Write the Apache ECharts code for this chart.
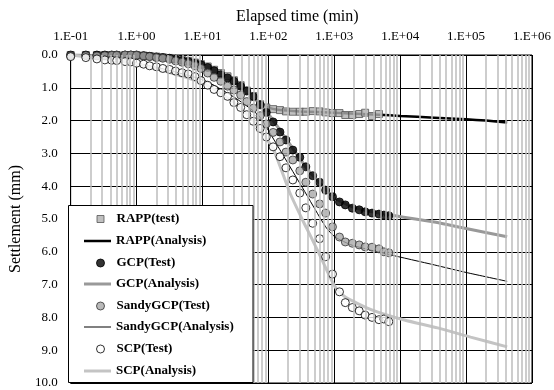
<!DOCTYPE html>
<html><head><meta charset="utf-8">
<script src="https://cdn.jsdelivr.net/npm/echarts@6/dist/echarts.min.js"></script>
<style>html,body{margin:0;padding:0;background:#fff}#c{width:554px;height:390px}</style>
</head><body><div id="c"></div>
<script>
// Test readings (min)
var testTimes = [0.1,0.17,0.25,0.33,0.42,0.5,0.67,0.82,1.0,1.28,1.58,2.0,2.5,3.16,3.9,4.9,6.1,7.7,9.5,12,15,19,24,30,38,47,59,75,93,118,150,185,235,300,370,470,600,740,940,1200,1470,1880,2390,2940,3740,4760,5660,6730];
var rappTest = [0,0,0,0,0,0,0,0,0.01,0.02,0.03,0.05,0.07,0.09,0.12,0.15,0.18,0.23,0.28,0.35,0.45,0.55,0.65,0.77,0.92,1.08,1.25,1.5,1.6,1.65,1.68,1.72,1.73,1.73,1.73,1.71,1.72,1.75,1.77,1.77,1.83,1.83,1.8,1.76,1.86,1.8];
var gcpTest = [0,0,0,0,0,0,0,0,0,0.02,0.04,0.06,0.08,0.1,0.13,0.17,0.2,0.25,0.3,0.38,0.48,0.6,0.7,0.8,0.95,1.1,1.27,1.52,1.75,2.04,2.35,2.59,2.9,3.12,3.41,3.68,3.88,4.12,4.32,4.48,4.57,4.67,4.72,4.78,4.82,4.85,4.88,4.9];
var sandyTest = [0.02,0.02,0.03,0.02,0.01,0.01,0,0,0.01,0.03,0.05,0.08,0.1,0.13,0.18,0.22,0.27,0.33,0.41,0.55,0.68,0.8,0.95,1.07,1.22,1.42,1.62,1.85,2.1,2.36,2.65,2.96,3.2,3.53,3.88,4.24,4.54,4.82,5.24,5.55,5.7,5.74,5.79,5.85,5.86,5.91,6.0,6.03];
var scpTest = [0.05,0.08,0.12,0.15,0.16,0.17,0.2,0.21,0.25,0.28,0.33,0.36,0.41,0.44,0.49,0.54,0.58,0.66,0.78,0.92,1.05,1.15,1.26,1.45,1.6,1.82,2.02,2.24,2.5,2.8,3.1,3.44,3.81,4.21,4.66,5.13,5.6,6.15,6.68,7.22,7.55,7.7,7.8,7.93,8.0,8.07,8.05,8.13];

// Analysis curves
var rappAnaTimes = [0.1,0.3,1,3,10,30,60,100,150,300,1000,4760,10000,33000,100000,200000,420000];
var rappAna = [0,0.01,0.03,0.12,0.3,0.8,1.3,1.6,1.68,1.72,1.76,1.82,1.86,1.91,1.96,2.0,2.06];
var gcpAnaTimes = [0.1,1,3,10,30,60,100,200,400,700,1000,2000,6700,33000,100000,420000];
var gcpAna = [0,0.03,0.1,0.3,0.8,1.3,1.8,2.65,3.5,4.05,4.35,4.65,4.87,5.09,5.29,5.54];
var sandyAnaTimes = [0.1,1,10,31,70,100,167,330,740,1030,1880,6700,33000,100000,420000];
var sandyAna = [0,0.25,0.75,1.3,1.83,2.3,3.05,4.05,5.24,5.55,5.8,6.08,6.4,6.63,6.9];
var scpAnaTimes = [0.1,1,10,30,59,75,118,212,330,470,670,1030,1470,3700,11600,37000,117000,420000];
var scpAna = [0,0.27,0.85,1.45,2.0,2.3,2.85,4.2,5.03,5.65,6.3,7.07,7.38,7.77,8.08,8.32,8.6,8.9];

// minor grid positions (2..9 of each decade)
var minorMults = [2,3,4,5,6,7,8,9];
var decades = [0.1,1,10,100,1000,10000,100000];

var names = ['RAPP(test)','RAPP(Analysis)','GCP(Test)','GCP(Analysis)','SandyGCP(Test)','SandyGCP(Analysis)','SCP(Test)','SCP(Analysis)'];

function zip(xs, ys){ var o=[]; for(var i=0;i<ys.length;i++) o.push([xs[i], ys[i]]); return o; }
var minorLines = [];
decades.forEach(function(d){ minorMults.forEach(function(m){ minorLines.push({xAxis: +(d*m).toPrecision(3)}); }); });

var FONT = "'Liberation Serif','Times New Roman',serif";

// legend styling per entry
var legendCenters = [219,241,263,284,306,327,349,371];
var legendIcons = [
  {kind:'mark', icon:'rect', size:7, color:'#b0b0b0', border:'#555'},
  {kind:'line', h:2.5, color:'#000'},
  {kind:'mark', icon:'circle', size:8, color:'#000', border:'#000'},
  {kind:'line', h:3, color:'#999'},
  {kind:'mark', icon:'circle', size:8, color:'#a8a8a8', border:'#333'},
  {kind:'line', h:1, color:'#000'},
  {kind:'mark', icon:'circle', size:8, color:'#fff', border:'#000'},
  {kind:'line', h:3, color:'#c4c4c4'}
];
var legends = names.map(function(n,i){
  var s = legendIcons[i];
  var isMark = s.kind==='mark';
  return {
    data:[{name:n, icon:isMark?s.icon:'rect'}],
    orient:'vertical', selectedMode:false, padding:0, z:10,
    left: isMark ? 100 - s.size/2 : 84,
    top: legendCenters[i] - 7,
    itemWidth: isMark ? s.size : 27,
    itemHeight: isMark ? s.size : s.h,
    itemStyle: isMark ? {color:s.color, borderColor:s.border, borderWidth:1} : {color:s.color, borderWidth:0},
    lineStyle: {width:0},
    textStyle:{fontFamily:FONT,fontSize:13,fontWeight:'bold',color:'#000',lineHeight:14,
      padding: isMark ? [0,0,0, 116 - (100 + s.size/2) - 5] : [0,0,0,0]}
  };
});

var chart = echarts.init(document.getElementById('c'));
chart.setOption({
  animation:false,
  grid:{left:65,right:22,top:55,bottom:7,show:true,borderColor:'#000',borderWidth:1,backgroundColor:'transparent'},
  graphic:[{type:'rect',z:8,shape:{x:68.5,y:205.5,width:184.5,height:177},
    style:{fill:'#fff',stroke:'#000',lineWidth:1}}],
  xAxis:{type:'log',logBase:10,min:0.1,max:1000000,interval:1,splitNumber:7,position:'top',
    name:'Elapsed time (min)',nameLocation:'middle',nameGap:29,
    nameTextStyle:{fontFamily:FONT,fontSize:16,color:'#000',padding:[0,8,0,0]},
    axisLine:{show:true,lineStyle:{color:'#000',width:1}},
    axisTick:{show:false},
    axisLabel:{margin:12,fontFamily:FONT,fontSize:13,color:'#000',
      formatter:function(v){var e=Math.round(Math.log10(v));var a=Math.abs(e);return '1.E'+(e<0?'-':'+')+(a<10?'0':'')+a;}},
    splitLine:{show:true,lineStyle:{color:'#000',width:1}}},
  yAxis:{type:'value',inverse:true,min:0,max:10,interval:1,
    name:'Settlement (mm)',nameLocation:'middle',nameGap:39,
    nameTextStyle:{fontFamily:FONT,fontSize:16,color:'#000'},
    axisLine:{show:true,lineStyle:{color:'#000',width:1}},
    axisTick:{show:false},
    axisLabel:{margin:13,fontFamily:FONT,fontSize:13,color:'#000',formatter:function(v){return v.toFixed(1);}},
    splitLine:{show:true,lineStyle:{color:'#000',width:1}}},
  legend:legends,
  series:[
    {name:'_minor',type:'line',data:[[0.1,0],[0.1,0]],symbol:'none',lineStyle:{width:0},silent:true,z:1,
      markLine:{silent:true,symbol:['none','none'],label:{show:false},
        lineStyle:{color:'#bdbdbd',width:1.5,type:'solid'},data:minorLines}},
    {name:names[0],type:'scatter',data:zip(testTimes,rappTest),symbol:'rect',symbolSize:7,z:3,
      itemStyle:{color:'#b0b0b0',borderColor:'#555',borderWidth:1}},
    {name:names[1],type:'line',data:zip(rappAnaTimes,rappAna),symbol:'none',smooth:0.2,z:3,
      itemStyle:{color:'#000'},lineStyle:{color:'#000',width:2.5}},
    {name:names[2],type:'scatter',data:zip(testTimes,gcpTest),symbol:'circle',symbolSize:8,z:3,
      itemStyle:{color:'#000',borderColor:'#000',borderWidth:1}},
    {name:names[3],type:'line',data:zip(gcpAnaTimes,gcpAna),symbol:'none',smooth:0.2,z:3,
      itemStyle:{color:'#999'},lineStyle:{color:'#999',width:3}},
    {name:names[4],type:'scatter',data:zip(testTimes,sandyTest),symbol:'circle',symbolSize:8,z:3,
      itemStyle:{color:'#a8a8a8',borderColor:'#333',borderWidth:1}},
    {name:names[5],type:'line',data:zip(sandyAnaTimes,sandyAna),symbol:'none',smooth:0.2,z:3,
      itemStyle:{color:'#000'},lineStyle:{color:'#000',width:1}},
    {name:names[6],type:'scatter',data:zip(testTimes,scpTest),symbol:'circle',symbolSize:8,z:3,
      itemStyle:{color:'#fff',borderColor:'#000',borderWidth:1}},
    {name:names[7],type:'line',data:zip(scpAnaTimes,scpAna),symbol:'none',smooth:0.2,z:3,
      itemStyle:{color:'#c4c4c4'},lineStyle:{color:'#c4c4c4',width:3}}
  ]
});
</script></body></html>
